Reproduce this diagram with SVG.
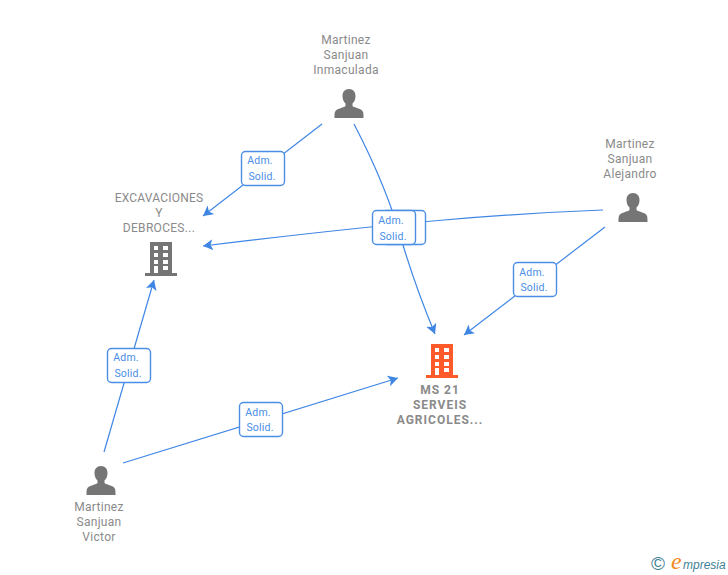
<svg xmlns="http://www.w3.org/2000/svg" width="728" height="575" viewBox="0 0 728 575">
<style>
.n{font-family:Roboto,"Liberation Sans",sans-serif;font-size:12px;fill:#8a8a8a;text-anchor:middle;letter-spacing:.3px}
.c{font-family:Roboto,"Liberation Sans",sans-serif;font-size:12px;font-weight:700;fill:#8a8a8a;text-anchor:middle;letter-spacing:1px}
.l{fill:none;stroke:#3f86e4;stroke-width:1.2}
.b{fill:#fff;stroke:#4a8ee6;stroke-width:1.4}
.t{font-family:Roboto,"Liberation Sans",sans-serif;font-size:10.500px;fill:#4a8ee6;text-anchor:middle;letter-spacing:.2px}
</style>
<defs>
<marker id="a" markerUnits="userSpaceOnUse" markerWidth="13" markerHeight="12" refX="10" refY="5.500" orient="auto"><path d="M0 0L10 5.500L0 11L2.500 5.500Z" fill="#3f86e4"/></marker>
<g id="p"><path d="M0-15c-4.200 0-6.500 3-6.500 7 0 3 1 5.500 3 7.500v2.500c-2 2-9.500 2.500-10.500 6-.5 1-.5 3-.5 6h29c0-3 0-5-.5-6-1-3.500-8.500-4-10.500-6V-.500c2-2 3-4.500 3-7.500 0-4-2.300-7-6.500-7Z" fill="#757575"/></g>
<path id="f" d="M-11-18H11V13H16V16H-16V13H-11ZM-7-14V-10H-3V-14ZM2-14V-10H7V-14ZM-7-7V-3H-3V-7ZM2-7V-3H7V-7ZM-7 0V4H-3V0ZM2 0V4H7V0ZM-7 6V13H-3V6ZM2 6V10H7V6Z" fill-rule="evenodd"/>
</defs>
<g id="connectors">
<path class="l" d="M322 124L203 216" marker-end="url(#a)"/>
<path class="l" d="M354 124C378 170 392 205 403 245C412 275 423 305 435 334" marker-end="url(#a)"/>
<path class="l" d="M603 210C500 214 400 222 203 246" marker-end="url(#a)"/>
<path class="l" d="M605 227L464 335" marker-end="url(#a)"/>
<path class="l" d="M104 452L154 280" marker-end="url(#a)"/>
<path class="l" d="M123 463L398 378" marker-end="url(#a)"/>
</g>
<g id="edge-labels">
<rect class="b" x="241.500" y="151.500" width="43" height="34" rx="4"/><text class="t" x="260" y="164">Adm.</text><text class="t" x="262" y="180">Solid.</text>
<rect class="b" x="382.500" y="210.500" width="43" height="34" rx="4"/>
<rect class="b" x="372.500" y="210.500" width="43" height="34" rx="4"/><text class="t" x="391" y="224">Adm.</text><text class="t" x="393" y="240">Solid.</text>
<rect class="b" x="513.500" y="262.500" width="43" height="34" rx="4"/><text class="t" x="532" y="276">Adm.</text><text class="t" x="534" y="291">Solid.</text>
<rect class="b" x="107.500" y="348.500" width="43" height="34" rx="4"/><text class="t" x="126" y="361">Adm.</text><text class="t" x="128" y="377">Solid.</text>
<rect class="b" x="239.500" y="402.500" width="43" height="34" rx="4"/><text class="t" x="258" y="416">Adm.</text><text class="t" x="260" y="431">Solid.</text>
</g>
<g id="node-inmaculada"><text class="n" x="346" y="44">Martinez</text><text class="n" x="346" y="59">Sanjuan</text><text class="n" x="346" y="74">Inmaculada</text><use href="#p" x="349" y="104"/></g>
<g id="node-alejandro"><text class="n" x="630" y="148">Martinez</text><text class="n" x="630" y="163">Sanjuan</text><text class="n" x="630" y="178">Alejandro</text><use href="#p" x="633" y="208"/></g>
<g id="node-victor"><text class="n" x="99" y="511">Martinez</text><text class="n" x="99" y="526">Sanjuan</text><text class="n" x="99" y="541">Victor</text><use href="#p" x="101" y="481"/></g>
<g id="node-excavaciones"><text class="n" x="159" y="202" style="letter-spacing:.2px">EXCAVACIONES</text><text class="n" x="159" y="217">Y</text><text class="n" x="159" y="232">DEBROCES...</text><use href="#f" x="161" y="260" fill="#757575"/></g>
<g id="node-ms21"><use href="#f" x="442" y="362" fill="#ff5a2c"/><text class="c" x="440" y="394">MS 21</text><text class="c" x="440" y="409">SERVEIS</text><text class="c" x="440" y="424">AGRICOLES...</text></g>
<g id="logo"><text x="658" y="570" font-family="'Liberation Sans',sans-serif" font-size="19" fill="#3f7f96" text-anchor="middle">©</text><text x="671" y="569" font-family="'Liberation Sans',sans-serif" font-style="italic" font-size="12" fill="#3f7f96"><tspan font-family="'Liberation Serif',serif" font-size="24" fill="#f08a1d">e</tspan><tspan x="683">mpresia</tspan></text></g>
</svg>
